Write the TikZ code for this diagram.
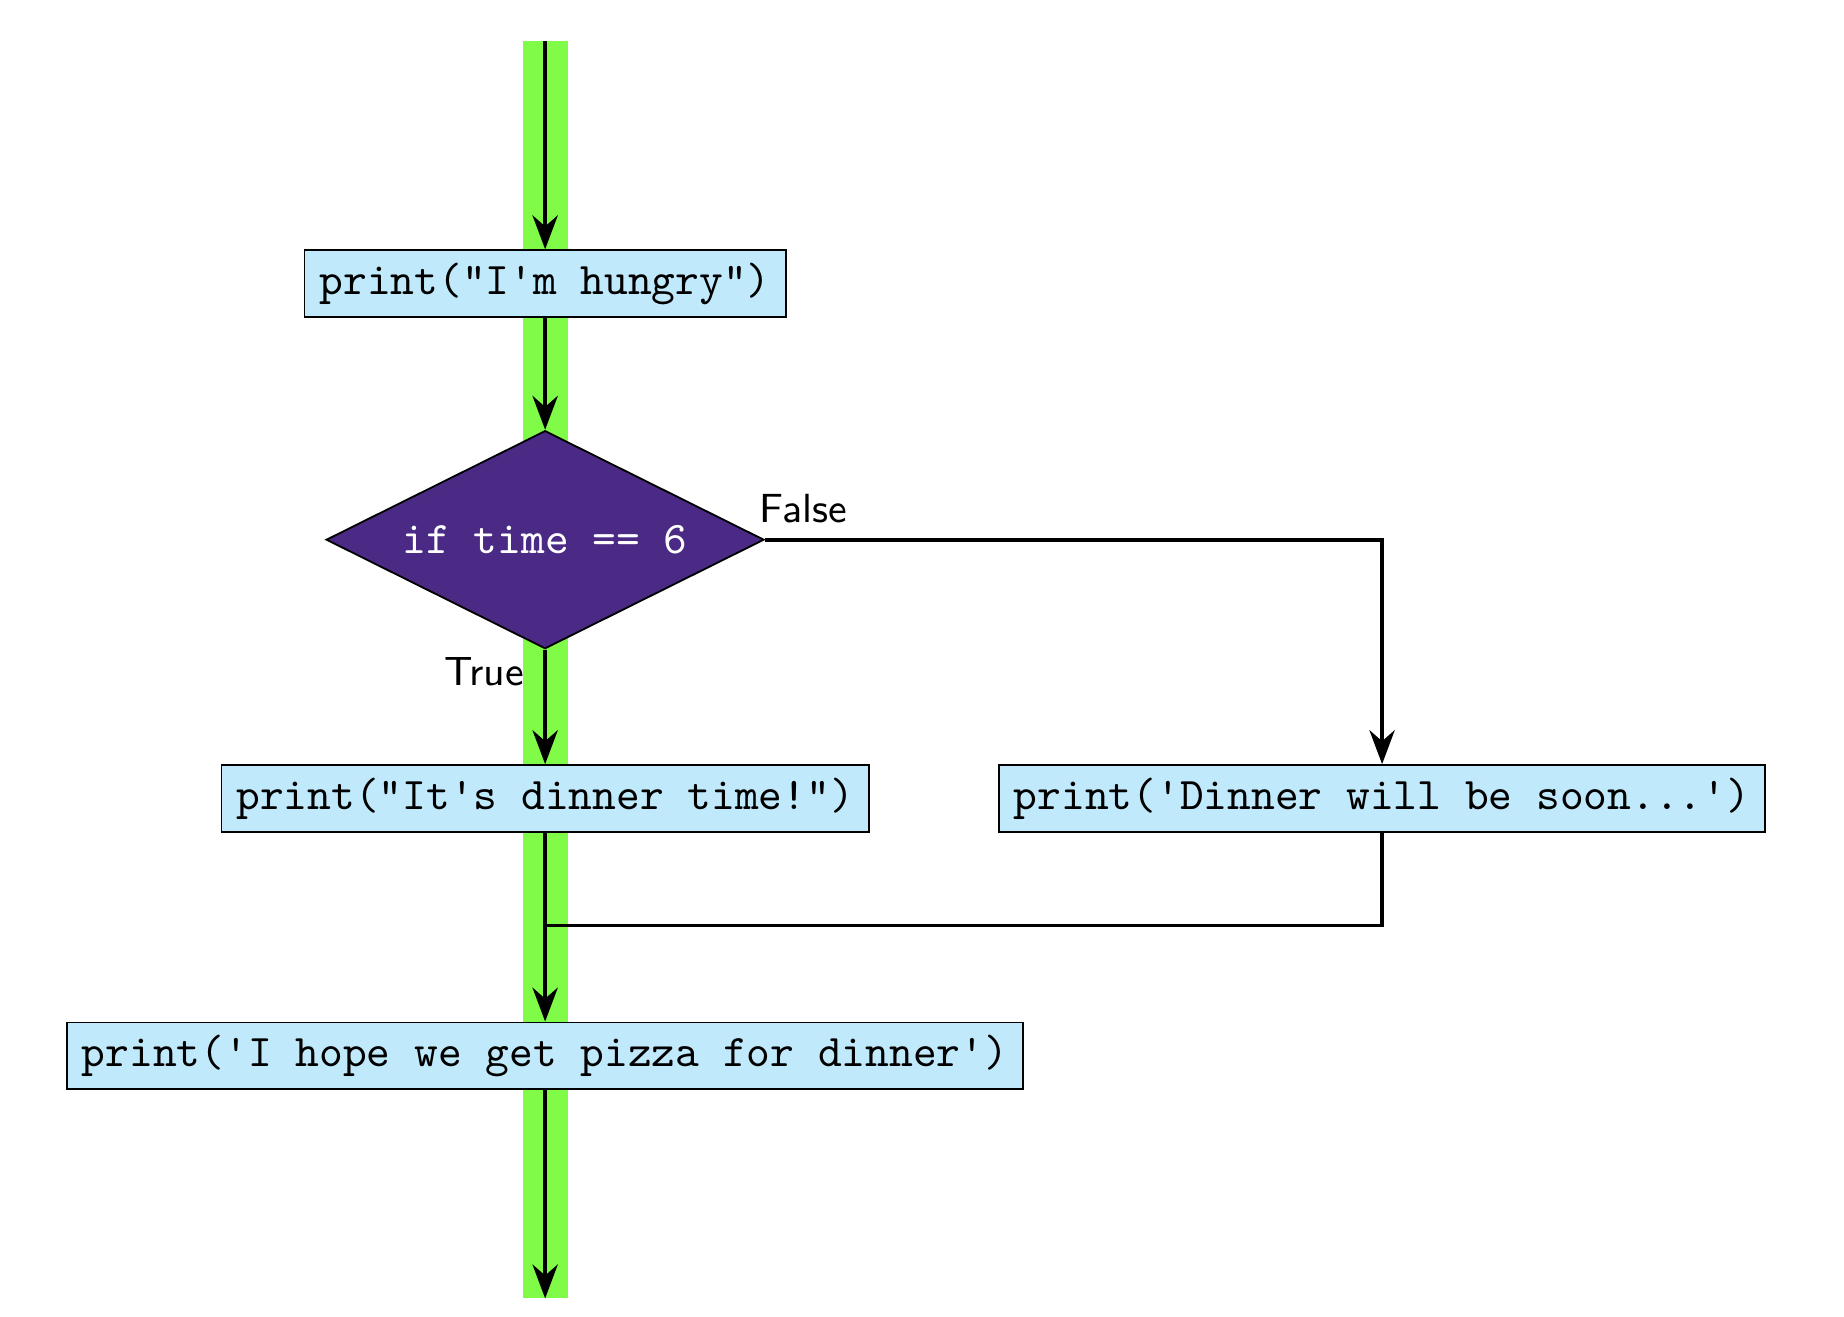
\documentclass[tikz,border=0pt]{standalone}
\usetikzlibrary{positioning, shapes.geometric, arrows.meta, backgrounds}
\definecolor{codeblue}{RGB}{192,233,251}
\definecolor{decisionpurple}{RGB}{74,42,133}
\definecolor{pathgreen}{RGB}{128,252,72}

\begin{document}
\begin{tikzpicture}[%
            codebox/.style={rectangle, draw, fill=codeblue, font=\ttfamily, minimum height=14.8pt, inner xsep=3.3pt, inner ysep=1pt},
            decision/.style={diamond, draw, fill=decisionpurple, text=white, font=\ttfamily, aspect=2, minimum width=96.8pt, minimum height=48.2pt, inner sep=0pt},
            branch/.style={font=\sffamily\small},
            arrow/.style={-{Stealth[length=7.5pt,width=5.6pt]}, thick},
            flow/.style={thick}
        ]
        
        \useasboundingbox (-120.5pt,9.1pt) rectangle (287.1pt,-281.8pt);
        
        % Entry point
        \coordinate (start) at (0,0);
        
        % Statements
        \node[codebox] (hungry) [below=46pt of start] {print("I'm hungry")};
        \node[decision] (cond) [below=24.7pt of hungry] {if time == 6};
        \node[codebox] (dinner) [below=25.3pt of cond] {print("It's dinner time!")};
        \node[codebox] (soon) [right=185pt of dinner.center, anchor=center] {print('Dinner will be soon...')};
        \node[codebox] (pizza) [below=41.7pt of dinner] {print('I hope we get pizza for dinner')};
        
        % Merge point and exit point
        \coordinate[below=20.5pt of dinner] (merge);
        \coordinate[below=46pt of pizza] (end);
        
        % Executed path
        \begin{scope}[on background layer]
            \draw[pathgreen, line width=9.9pt] (start) -- (end);
        \end{scope}
        
        % Connect the statements
        \draw[arrow] (start) -- (hungry);
        \draw[arrow] (hungry) -- (cond);
        \draw[arrow] (cond) -- (dinner) node[pos=0, branch, anchor=north east, xshift=-1pt, yshift=2pt] (truelbl) {True};
        \draw[arrow] (cond.east) -| (soon) node[pos=0, branch, anchor=south west, xshift=-5pt] (falselbl) {False};
        \draw[arrow] (dinner) -- (pizza);
        \draw[flow] (soon) |- (merge);
        \draw[arrow] (pizza) -- (end);
        
        \end{tikzpicture}
\end{document}
